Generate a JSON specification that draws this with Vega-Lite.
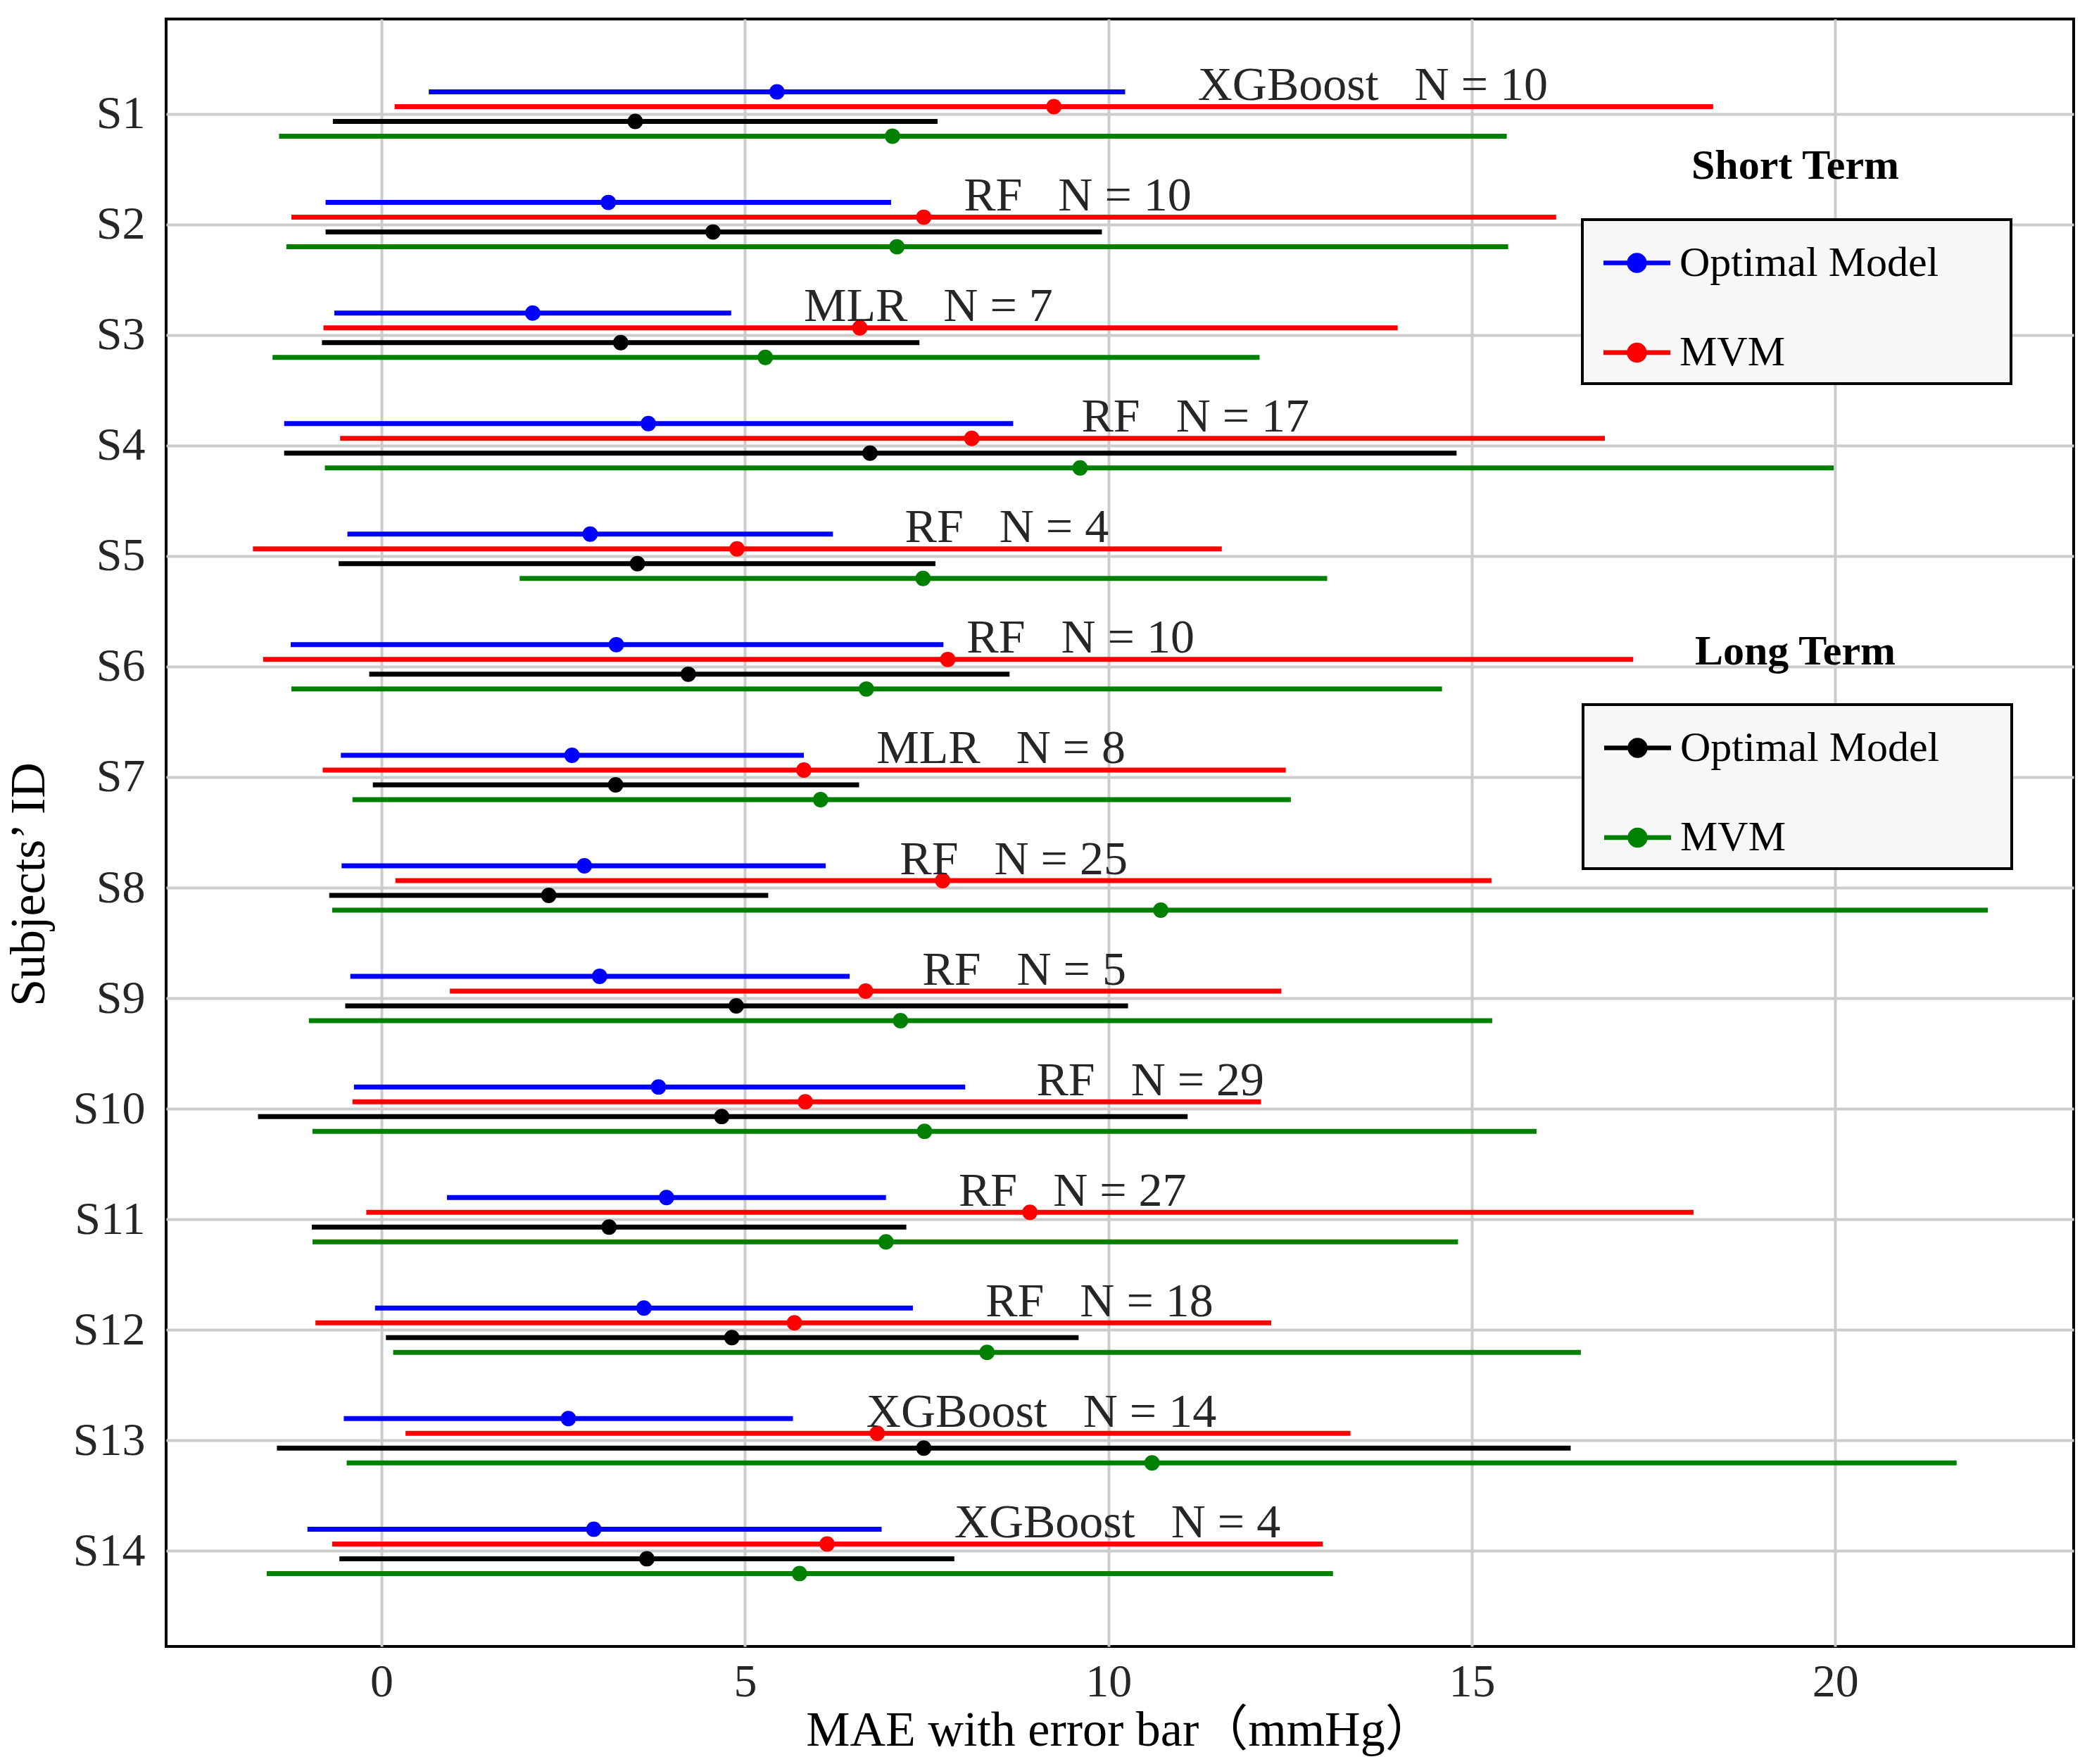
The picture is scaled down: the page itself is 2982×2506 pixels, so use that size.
{
  "$schema": "https://vega.github.io/schema/vega-lite/v6.json",
  "width": 2710,
  "height": 2312,
  "autosize": {"type": "none"},
  "padding": {"left": 236, "top": 27, "right": 36, "bottom": 167},
  "background": "white",
  "config": {
    "font": "Liberation Serif",
    "view": {"stroke": "#000000", "strokeWidth": 4}
  },
  "datasets": {
    "err": [
      {"subject":"S1","term":"Short Term","model":"Optimal Model","series":"Short Term Optimal Model","mae":5.44,"lo":0.65,"hi":10.23},
      {"subject":"S1","term":"Short Term","model":"MVM","series":"Short Term MVM","mae":9.25,"lo":0.18,"hi":18.32},
      {"subject":"S1","term":"Long Term","model":"Optimal Model","series":"Long Term Optimal Model","mae":3.49,"lo":-0.67,"hi":7.65},
      {"subject":"S1","term":"Long Term","model":"MVM","series":"Long Term MVM","mae":7.03,"lo":-1.41,"hi":15.48},
      {"subject":"S2","term":"Short Term","model":"Optimal Model","series":"Short Term Optimal Model","mae":3.12,"lo":-0.77,"hi":7.01},
      {"subject":"S2","term":"Short Term","model":"MVM","series":"Short Term MVM","mae":7.46,"lo":-1.24,"hi":16.16},
      {"subject":"S2","term":"Long Term","model":"Optimal Model","series":"Long Term Optimal Model","mae":4.56,"lo":-0.77,"hi":9.91},
      {"subject":"S2","term":"Long Term","model":"MVM","series":"Long Term MVM","mae":7.09,"lo":-1.31,"hi":15.50},
      {"subject":"S3","term":"Short Term","model":"Optimal Model","series":"Short Term Optimal Model","mae":2.08,"lo":-0.65,"hi":4.81},
      {"subject":"S3","term":"Short Term","model":"MVM","series":"Short Term MVM","mae":6.58,"lo":-0.80,"hi":13.98},
      {"subject":"S3","term":"Long Term","model":"Optimal Model","series":"Long Term Optimal Model","mae":3.29,"lo":-0.82,"hi":7.40},
      {"subject":"S3","term":"Long Term","model":"MVM","series":"Long Term MVM","mae":5.28,"lo":-1.50,"hi":12.08},
      {"subject":"S4","term":"Short Term","model":"Optimal Model","series":"Short Term Optimal Model","mae":3.67,"lo":-1.34,"hi":8.69},
      {"subject":"S4","term":"Short Term","model":"MVM","series":"Short Term MVM","mae":8.12,"lo":-0.57,"hi":16.83},
      {"subject":"S4","term":"Long Term","model":"Optimal Model","series":"Long Term Optimal Model","mae":6.72,"lo":-1.34,"hi":14.79},
      {"subject":"S4","term":"Long Term","model":"MVM","series":"Long Term MVM","mae":9.61,"lo":-0.78,"hi":19.98},
      {"subject":"S5","term":"Short Term","model":"Optimal Model","series":"Short Term Optimal Model","mae":2.87,"lo":-0.47,"hi":6.21},
      {"subject":"S5","term":"Short Term","model":"MVM","series":"Short Term MVM","mae":4.89,"lo":-1.77,"hi":11.56},
      {"subject":"S5","term":"Long Term","model":"Optimal Model","series":"Long Term Optimal Model","mae":3.52,"lo":-0.59,"hi":7.62},
      {"subject":"S5","term":"Long Term","model":"MVM","series":"Long Term MVM","mae":7.45,"lo":1.90,"hi":13.01},
      {"subject":"S6","term":"Short Term","model":"Optimal Model","series":"Short Term Optimal Model","mae":3.23,"lo":-1.25,"hi":7.73},
      {"subject":"S6","term":"Short Term","model":"MVM","series":"Short Term MVM","mae":7.79,"lo":-1.63,"hi":17.22},
      {"subject":"S6","term":"Long Term","model":"Optimal Model","series":"Long Term Optimal Model","mae":4.22,"lo":-0.17,"hi":8.64},
      {"subject":"S6","term":"Long Term","model":"MVM","series":"Long Term MVM","mae":6.67,"lo":-1.24,"hi":14.59},
      {"subject":"S7","term":"Short Term","model":"Optimal Model","series":"Short Term Optimal Model","mae":2.62,"lo":-0.56,"hi":5.81},
      {"subject":"S7","term":"Short Term","model":"MVM","series":"Short Term MVM","mae":5.81,"lo":-0.81,"hi":12.44},
      {"subject":"S7","term":"Long Term","model":"Optimal Model","series":"Long Term Optimal Model","mae":3.22,"lo":-0.12,"hi":6.57},
      {"subject":"S7","term":"Long Term","model":"MVM","series":"Long Term MVM","mae":6.04,"lo":-0.40,"hi":12.51},
      {"subject":"S8","term":"Short Term","model":"Optimal Model","series":"Short Term Optimal Model","mae":2.79,"lo":-0.55,"hi":6.11},
      {"subject":"S8","term":"Short Term","model":"MVM","series":"Short Term MVM","mae":7.72,"lo":0.19,"hi":15.27},
      {"subject":"S8","term":"Long Term","model":"Optimal Model","series":"Long Term Optimal Model","mae":2.30,"lo":-0.72,"hi":5.32},
      {"subject":"S8","term":"Long Term","model":"MVM","series":"Long Term MVM","mae":10.72,"lo":-0.68,"hi":22.10},
      {"subject":"S9","term":"Short Term","model":"Optimal Model","series":"Short Term Optimal Model","mae":3.00,"lo":-0.43,"hi":6.44},
      {"subject":"S9","term":"Short Term","model":"MVM","series":"Short Term MVM","mae":6.66,"lo":0.94,"hi":12.38},
      {"subject":"S9","term":"Long Term","model":"Optimal Model","series":"Long Term Optimal Model","mae":4.88,"lo":-0.50,"hi":10.27},
      {"subject":"S9","term":"Long Term","model":"MVM","series":"Long Term MVM","mae":7.14,"lo":-1.00,"hi":15.28},
      {"subject":"S10","term":"Short Term","model":"Optimal Model","series":"Short Term Optimal Model","mae":3.81,"lo":-0.38,"hi":8.03},
      {"subject":"S10","term":"Short Term","model":"MVM","series":"Short Term MVM","mae":5.83,"lo":-0.40,"hi":12.10},
      {"subject":"S10","term":"Long Term","model":"Optimal Model","series":"Long Term Optimal Model","mae":4.68,"lo":-1.70,"hi":11.09},
      {"subject":"S10","term":"Long Term","model":"MVM","series":"Long Term MVM","mae":7.47,"lo":-0.95,"hi":15.89},
      {"subject":"S11","term":"Short Term","model":"Optimal Model","series":"Short Term Optimal Model","mae":3.92,"lo":0.90,"hi":6.94},
      {"subject":"S11","term":"Short Term","model":"MVM","series":"Short Term MVM","mae":8.92,"lo":-0.21,"hi":18.05},
      {"subject":"S11","term":"Long Term","model":"Optimal Model","series":"Long Term Optimal Model","mae":3.13,"lo":-0.96,"hi":7.22},
      {"subject":"S11","term":"Long Term","model":"MVM","series":"Long Term MVM","mae":6.94,"lo":-0.95,"hi":14.81},
      {"subject":"S12","term":"Short Term","model":"Optimal Model","series":"Short Term Optimal Model","mae":3.61,"lo":-0.09,"hi":7.31},
      {"subject":"S12","term":"Short Term","model":"MVM","series":"Short Term MVM","mae":5.68,"lo":-0.91,"hi":12.24},
      {"subject":"S12","term":"Long Term","model":"Optimal Model","series":"Long Term Optimal Model","mae":4.82,"lo":0.06,"hi":9.59},
      {"subject":"S12","term":"Long Term","model":"MVM","series":"Long Term MVM","mae":8.33,"lo":0.16,"hi":16.50},
      {"subject":"S13","term":"Short Term","model":"Optimal Model","series":"Short Term Optimal Model","mae":2.57,"lo":-0.52,"hi":5.66},
      {"subject":"S13","term":"Short Term","model":"MVM","series":"Short Term MVM","mae":6.82,"lo":0.33,"hi":13.33},
      {"subject":"S13","term":"Long Term","model":"Optimal Model","series":"Long Term Optimal Model","mae":7.46,"lo":-1.44,"hi":16.36},
      {"subject":"S13","term":"Long Term","model":"MVM","series":"Long Term MVM","mae":10.60,"lo":-0.48,"hi":21.67},
      {"subject":"S14","term":"Short Term","model":"Optimal Model","series":"Short Term Optimal Model","mae":2.92,"lo":-1.02,"hi":6.88},
      {"subject":"S14","term":"Short Term","model":"MVM","series":"Short Term MVM","mae":6.13,"lo":-0.68,"hi":12.95},
      {"subject":"S14","term":"Long Term","model":"Optimal Model","series":"Long Term Optimal Model","mae":3.65,"lo":-0.58,"hi":7.88},
      {"subject":"S14","term":"Long Term","model":"MVM","series":"Long Term MVM","mae":5.75,"lo":-1.58,"hi":13.09}
    ],
    "notes": [
      {"subject":"S1","label":"XGBoost\u00a0\u00a0\u00a0N = 10","x":11.23},
      {"subject":"S2","label":"RF\u00a0\u00a0\u00a0N = 10","x":8.01},
      {"subject":"S3","label":"MLR\u00a0\u00a0\u00a0N = 7","x":5.81},
      {"subject":"S4","label":"RF\u00a0\u00a0\u00a0N = 17","x":9.63},
      {"subject":"S5","label":"RF\u00a0\u00a0\u00a0N = 4","x":7.20},
      {"subject":"S6","label":"RF\u00a0\u00a0\u00a0N = 10","x":8.05},
      {"subject":"S7","label":"MLR\u00a0\u00a0\u00a0N = 8","x":6.81},
      {"subject":"S8","label":"RF\u00a0\u00a0\u00a0N = 25","x":7.13},
      {"subject":"S9","label":"RF\u00a0\u00a0\u00a0N = 5","x":7.44},
      {"subject":"S10","label":"RF\u00a0\u00a0\u00a0N = 29","x":9.01},
      {"subject":"S11","label":"RF\u00a0\u00a0\u00a0N = 27","x":7.94},
      {"subject":"S12","label":"RF\u00a0\u00a0\u00a0N = 18","x":8.31},
      {"subject":"S13","label":"XGBoost\u00a0\u00a0\u00a0N = 14","x":6.67},
      {"subject":"S14","label":"XGBoost\u00a0\u00a0\u00a0N = 4","x":7.88}
    ],
    "legendTitles": [
      {"title":"Short Term","x":19.45,"subject":"S2"},
      {"title":"Long Term","x":19.45,"subject":"S6"}
    ]
  },
  "encoding": {
    "y": {"field": "subject", "type": "nominal",
          "scale": {"type": "band", "domain": ["S1","S2","S3","S4","S5","S6","S7","S8","S9","S10","S11","S12","S13","S14"], "paddingInner": 0, "paddingOuter": 0.36},
          "axis": {"grid": true, "bandPosition": 0.5, "gridColor": "#cccccc", "gridWidth": 4, "domain": false, "ticks": false,
                   "labelFont": "Liberation Serif", "labelFontSize": 66, "labelColor": "#262626", "labelPadding": 30,
                   "title": "Subjects’ ID", "titleFont": "Liberation Serif", "titleFontSize": 70, "titleFontWeight": "normal", "titleColor": "#000000", "titlePadding": 26, "titleY": 1229}}
  },
  "layer": [
    {
      "data": {"name": "err"},
      "transform": [{"filter": "datum.term === 'Short Term'"}],
      "mark": {"type": "rule", "strokeWidth": 7, "strokeCap": "butt"},
      "encoding": {
        "yOffset": {"field": "series", "type": "nominal",
                    "scale": {"type": "band", "domain": ["Short Term Optimal Model","Short Term MVM","Long Term Optimal Model","Long Term MVM"], "range": [36.5, 120.5], "paddingInner": 0, "paddingOuter": 0}},
        "x": {"field": "lo", "type": "quantitative",
              "scale": {"domain": [-2.964, 23.28], "nice": false, "zero": false},
              "axis": {"values": [0,5,10,15,20], "format": "d", "grid": true, "gridColor": "#cccccc", "gridWidth": 4, "domain": false, "ticks": false,
                       "labelFont": "Liberation Serif", "labelFontSize": 66, "labelColor": "#262626", "labelPadding": 18,
                       "title": "MAE with error bar（mmHg）", "titleFont": "Liberation Serif, Noto Sans CJK SC", "titleFontSize": 70, "titleFontWeight": "normal", "titleColor": "#000000", "titlePadding": 2}},
        "x2": {"field": "hi"},
        "stroke": {"field": "series", "type": "nominal", "legend": null,
                   "scale": {"domain": ["Short Term Optimal Model","Short Term MVM","Long Term Optimal Model","Long Term MVM"], "range": ["#0000ff","#ff0000","#000000","#008000"]}}
      }
    },
    {
      "data": {"name": "err"},
      "transform": [{"filter": "datum.term === 'Long Term'"}],
      "mark": {"type": "rule", "strokeWidth": 7, "strokeCap": "butt"},
      "encoding": {
        "yOffset": {"field": "series", "type": "nominal",
                    "scale": {"type": "band", "domain": ["Short Term Optimal Model","Short Term MVM","Long Term Optimal Model","Long Term MVM"], "range": [36.5, 120.5], "paddingInner": 0, "paddingOuter": 0}},
        "x": {"field": "lo", "type": "quantitative", "scale": {"domain": [-2.964, 23.28], "nice": false, "zero": false}},
        "x2": {"field": "hi"},
        "stroke": {"field": "series", "type": "nominal", "legend": null,
                   "scale": {"domain": ["Short Term Optimal Model","Short Term MVM","Long Term Optimal Model","Long Term MVM"], "range": ["#0000ff","#ff0000","#000000","#008000"]}}
      }
    },
    {
      "data": {"name": "err"},
      "transform": [{"filter": "datum.term === 'Short Term'"}],
      "mark": {"type": "point", "filled": true, "size": 480, "opacity": 1},
      "encoding": {
        "yOffset": {"field": "series", "type": "nominal",
                    "scale": {"type": "band", "domain": ["Short Term Optimal Model","Short Term MVM","Long Term Optimal Model","Long Term MVM"], "range": [36.5, 120.5], "paddingInner": 0, "paddingOuter": 0}},
        "x": {"field": "mae", "type": "quantitative", "scale": {"domain": [-2.964, 23.28], "nice": false, "zero": false}},
        "color": {"field": "series", "type": "nominal",
                  "scale": {"domain": ["Short Term Optimal Model","Short Term MVM"], "range": ["#0000ff","#ff0000"]},
                  "legend": {"title": null, "orient": "none", "legendX": 2012, "legendY": 285,
                             "padding": 14, "symbolOffset": 16, "symbolSize": 9025, "symbolStrokeWidth": 0, "symbolOpacity": 1,
                             "symbolType": "M-1,-0.07H1V0.07H-1Z M-0.3,0A0.3,0.3,0,1,1,0.3,0A0.3,0.3,0,1,1,-0.3,0Z",
                             "labelOffset": 13, "rowPadding": 49.4, "labelFont": "Liberation Serif, DejaVu Sans", "labelFontSize": 60, "labelColor": "#000000", "labelLimit": 2000,
                             "labelExpr": "replace(datum.label, 'Short Term ', '') + '\u2800\u2800'",
                             "fillColor": "#f7f7f7", "strokeColor": "#000000",
                             "encode": {"legend": {"update": {"strokeWidth": {"value": 4}}}}}}
      }
    },
    {
      "data": {"name": "err"},
      "transform": [{"filter": "datum.term === 'Long Term'"}],
      "mark": {"type": "point", "filled": true, "size": 480, "opacity": 1},
      "encoding": {
        "yOffset": {"field": "series", "type": "nominal",
                    "scale": {"type": "band", "domain": ["Short Term Optimal Model","Short Term MVM","Long Term Optimal Model","Long Term MVM"], "range": [36.5, 120.5], "paddingInner": 0, "paddingOuter": 0}},
        "x": {"field": "mae", "type": "quantitative", "scale": {"domain": [-2.964, 23.28], "nice": false, "zero": false}},
        "fill": {"field": "series", "type": "nominal",
                 "scale": {"domain": ["Long Term Optimal Model","Long Term MVM"], "range": ["#000000","#008000"]},
                 "legend": {"title": null, "orient": "none", "legendX": 2013, "legendY": 974,
                            "padding": 14, "symbolOffset": 16, "symbolSize": 9025, "symbolStrokeWidth": 0, "symbolOpacity": 1,
                            "symbolType": "M-1,-0.07H1V0.07H-1Z M-0.3,0A0.3,0.3,0,1,1,0.3,0A0.3,0.3,0,1,1,-0.3,0Z",
                            "labelOffset": 13, "rowPadding": 49.4, "labelFont": "Liberation Serif, DejaVu Sans", "labelFontSize": 60, "labelColor": "#000000", "labelLimit": 2000,
                            "labelExpr": "replace(datum.label, 'Long Term ', '') + '\u2800\u2800'",
                            "fillColor": "#f7f7f7", "strokeColor": "#000000",
                            "encode": {"legend": {"update": {"strokeWidth": {"value": 4}}}}}}
      }
    },
    {
      "data": {"name": "notes"},
      "mark": {"type": "text", "align": "left", "baseline": "alphabetic", "dy": -20, "font": "Liberation Serif", "fontSize": 68, "color": "#262626"},
      "encoding": {
        "x": {"field": "x", "type": "quantitative", "scale": {"domain": [-2.964, 23.28], "nice": false, "zero": false}},
        "text": {"field": "label", "type": "nominal"}
      }
    },
    {
      "data": {"name": "legendTitles"},
      "transform": [{"filter": "datum.title === 'Short Term'"}],
      "mark": {"type": "text", "align": "center", "baseline": "alphabetic", "dy": -65, "font": "Liberation Serif", "fontSize": 60, "fontWeight": "bold", "color": "#000000"},
      "encoding": {
        "x": {"field": "x", "type": "quantitative", "scale": {"domain": [-2.964, 23.28], "nice": false, "zero": false}},
        "text": {"field": "title", "type": "nominal"}
      }
    },
    {
      "data": {"name": "legendTitles"},
      "transform": [{"filter": "datum.title === 'Long Term'"}],
      "mark": {"type": "text", "align": "center", "baseline": "alphabetic", "dy": -3, "font": "Liberation Serif", "fontSize": 60, "fontWeight": "bold", "color": "#000000"},
      "encoding": {
        "x": {"field": "x", "type": "quantitative", "scale": {"domain": [-2.964, 23.28], "nice": false, "zero": false}},
        "text": {"field": "title", "type": "nominal"}
      }
    }
  ]
}
